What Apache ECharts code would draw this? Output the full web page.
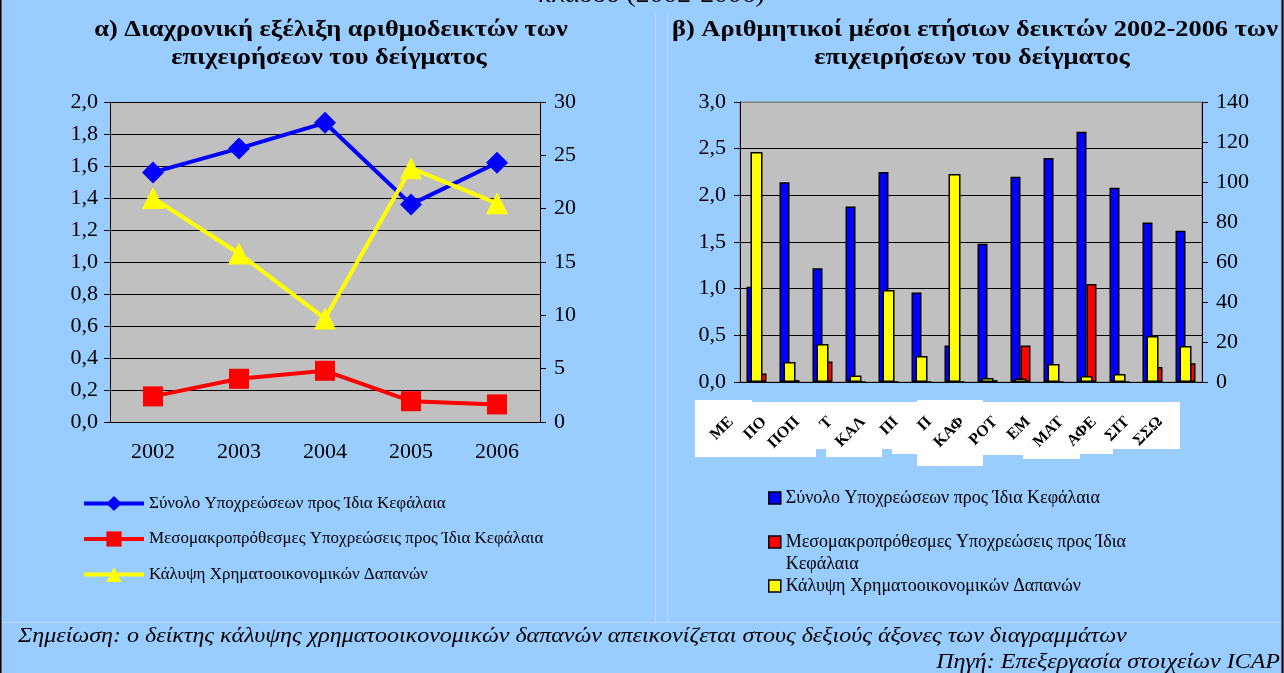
<!DOCTYPE html>
<html>
<head>
<meta charset="utf-8">
<script src="https://cdn.jsdelivr.net/npm/echarts@6/dist/echarts.min.js"></script>
<style>
  html, body { margin: 0; padding: 0; background: #99CCFF; }
  #chart { width: 1284px; height: 673px; }
</style>
</head>
<body>
<div id="chart"></div>
<script>
// α) χρονική εξέλιξη
var years = ['2002', '2003', '2004', '2005', '2006'];
var totalLiab = [1.56, 1.71, 1.87, 1.36, 1.62];
var longLiab = [0.16, 0.27, 0.32, 0.13, 0.11];
var coverage = [21.0, 15.8, 9.7, 23.8, 20.5];

// β) μέσοι όροι ανά κλάδο
var sectors = ['ΜΕ', 'ΠΟ', 'ΠΟΠ', 'Τ', 'ΚΑΛ', 'ΠΙ', 'Π', 'ΚΑΦ', 'ΡΟΤ', 'ΕΜ', 'ΜΑΤ', 'ΑΦΕ', 'ΣΙΤ', 'ΣΣΩ'];
var sectorTotal = [1.02, 2.14, 1.22, 1.88, 2.25, 0.96, 0.39, 1.48, 2.20, 2.40, 2.68, 2.08, 1.71, 1.62];
var sectorLong = [0.09, 0.02, 0.22, 0, 0, 0, 0, 0.02, 0.39, 0, 1.05, 0, 0.16, 0.20];
var sectorCoverage = [115, 10, 19, 3.2, 46, 13, 104, 2, 1.8, 9, 3, 4, 23, 18];

var names = [
  'Σύνολο Υποχρεώσεων προς Ίδια Κεφάλαια',
  'Μεσομακροπρόθεσμες Υποχρεώσεις προς Ίδια Κεφάλαια',
  'Κάλυψη Χρηματοοικονομικών Δαπανών'
];

var serif = 'Liberation Serif';
var comma = function (v) { return v.toFixed(1).replace('.', ','); };
var axisText = { color: '#000', fontFamily: serif, fontSize: 22 };
var blackLine = { lineStyle: { color: '#000', width: 1 } };

// κείμενο τεντωμένο οριζόντια, όπως στο πρωτότυπο
function stretched(txt, x, y, font, align, sx) {
  return {
    type: 'text', x: x, y: y, scaleX: sx, originX: 0, originY: 0,
    style: { text: txt, font: font, fill: '#000', align: align, verticalAlign: 'middle' }
  };
}

var myChart = echarts.init(document.getElementById('chart'));

var legendRight = {
  left: 763, itemWidth: 12, itemHeight: 12, selectedMode: false, icon: 'rect',
  itemStyle: { borderColor: '#000', borderWidth: 1.5 },
  textStyle: { fontFamily: serif, fontSize: 18, color: '#000', lineHeight: 22 }
};

var option = {
  backgroundColor: '#99CCFF',
  animation: false,
  legend: [
    {
      data: names, orient: 'vertical', left: 77, top: 489,
      itemWidth: 60, itemHeight: 19, itemGap: 16.5,
      selectedMode: false,
      lineStyle: { width: 4 },
      textStyle: { fontFamily: serif, fontSize: 17, color: '#000', lineHeight: 19 }
    },
    Object.assign({ data: [names[0]], top: 482 }, legendRight),
    Object.assign({
      data: [names[1]], top: 504,
      formatter: function () { return ' \nΜεσομακροπρόθεσμες Υποχρεώσεις προς Ίδια\nΚεφάλαια'; }
    }, legendRight),
    Object.assign({ data: [names[2]], top: 570 }, legendRight)
  ],
  grid: [
    { left: 110, right: 744, top: 102, bottom: 251, show: true, backgroundColor: '#C0C0C0', borderWidth: 0 },
    { left: 740, right: 82, top: 102, bottom: 291, show: true, backgroundColor: '#C0C0C0', borderColor: '#808080', borderWidth: 1 }
  ],
  xAxis: [
    {
      gridIndex: 0, type: 'category', data: years,
      axisLine: blackLine, axisTick: { length: 6, lineStyle: { color: '#000' } },
      axisLabel: Object.assign({ margin: 19 }, axisText)
    },
    {
      gridIndex: 1, type: 'category', data: sectors,
      axisLine: blackLine, axisTick: { length: 6, lineStyle: { color: '#000' } },
      axisLabel: { rotate: 45, margin: 12, padding: [0, 36, 0, 0], color: '#000', fontFamily: serif, fontSize: 16, fontWeight: 'bold' },
      z: 10
    },
    {
      gridIndex: 1, type: 'category', data: sectors, show: false
    }
  ],
  yAxis: [
    {
      gridIndex: 0, type: 'value', min: 0, max: 2, interval: 0.2,
      axisLine: { show: true, lineStyle: { color: '#000' } },
      axisTick: { show: true, length: 6, lineStyle: { color: '#000' } },
      axisLabel: Object.assign({ margin: 12, formatter: comma }, axisText),
      splitLine: { show: true, lineStyle: { color: '#000', width: 1 } }
    },
    {
      gridIndex: 0, type: 'value', min: 0, max: 30, interval: 5, position: 'right',
      axisLine: { show: true, lineStyle: { color: '#000' } },
      axisTick: { show: true, length: 6, lineStyle: { color: '#000' } },
      axisLabel: Object.assign({ margin: 14 }, axisText),
      splitLine: { show: false }
    },
    {
      gridIndex: 1, type: 'value', min: 0, max: 3, interval: 0.5,
      axisLine: { show: true, lineStyle: { color: '#000' } },
      axisTick: { show: true, length: 6, lineStyle: { color: '#000' } },
      axisLabel: Object.assign({ margin: 14, formatter: comma }, axisText),
      splitLine: { show: true, lineStyle: { color: ['#000', '#000', '#000', '#000', '#000', '#000', '#808080'], width: 1 } }
    },
    {
      gridIndex: 1, type: 'value', min: 0, max: 140, interval: 20, position: 'right',
      axisLine: { show: true, lineStyle: { color: '#000' } },
      axisTick: { show: true, length: 6, lineStyle: { color: '#000' } },
      axisLabel: Object.assign({ margin: 14 }, axisText),
      splitLine: { show: false }
    }
  ],
  series: [
    {
      name: names[0], type: 'line', xAxisIndex: 0, yAxisIndex: 0, data: totalLiab,
      symbol: 'diamond', symbolSize: 22,
      lineStyle: { color: '#0000FF', width: 4 }, itemStyle: { color: '#0000FF' }
    },
    {
      name: names[1], type: 'line', xAxisIndex: 0, yAxisIndex: 0, data: longLiab,
      symbol: 'rect', symbolSize: 20,
      lineStyle: { color: '#FF0000', width: 4 }, itemStyle: { color: '#FF0000' }
    },
    {
      name: names[2], type: 'line', xAxisIndex: 0, yAxisIndex: 1, data: coverage,
      symbol: 'triangle', symbolSize: 22,
      lineStyle: { color: '#FFFF00', width: 4 }, itemStyle: { color: '#FFFF00' }
    },
    {
      name: names[0], type: 'bar', xAxisIndex: 1, yAxisIndex: 2, data: sectorTotal,
      barWidth: 10, barGap: '0%',
      itemStyle: { color: '#0000FF', borderColor: '#000', borderWidth: 1.5 }
    },
    {
      name: names[1], type: 'bar', xAxisIndex: 1, yAxisIndex: 2, data: sectorLong,
      barWidth: 10, barGap: '0%',
      itemStyle: { color: '#FF0000', borderColor: '#000', borderWidth: 1.5 }
    },
    {
      name: names[2], type: 'bar', xAxisIndex: 2, yAxisIndex: 3, data: sectorCoverage,
      barWidth: 12,
      itemStyle: { color: '#FFFF00', borderColor: '#000', borderWidth: 1.5 }
    }
  ],
  graphic: [
    // άσπρα κομμάτια κάτω από τις ετικέτες κλάδων
    { type: 'rect', z: 1, shape: { x: 695, y: 400, width: 57, height: 57 }, style: { fill: '#fff' } },
    { type: 'rect', z: 1, shape: { x: 752, y: 402, width: 165, height: 47 }, style: { fill: '#fff' } },
    { type: 'rect', z: 1, shape: { x: 752, y: 449, width: 64, height: 8 }, style: { fill: '#fff' } },
    { type: 'rect', z: 1, shape: { x: 826, y: 449, width: 56, height: 8 }, style: { fill: '#fff' } },
    { type: 'rect', z: 1, shape: { x: 892, y: 449, width: 25, height: 5 }, style: { fill: '#fff' } },
    { type: 'rect', z: 1, shape: { x: 917, y: 400, width: 66, height: 66 }, style: { fill: '#fff' } },
    { type: 'rect', z: 1, shape: { x: 983, y: 402, width: 40, height: 53 }, style: { fill: '#fff' } },
    { type: 'rect', z: 1, shape: { x: 1023, y: 402, width: 57, height: 57 }, style: { fill: '#fff' } },
    { type: 'rect', z: 1, shape: { x: 1080, y: 402, width: 33, height: 52 }, style: { fill: '#fff' } },
    { type: 'rect', z: 1, shape: { x: 1113, y: 402, width: 67, height: 47 }, style: { fill: '#fff' } },
    // πλαίσιο
    { type: 'line', shape: { x1: 0.5, y1: 0, x2: 0.5, y2: 673 }, style: { stroke: '#000', lineWidth: 2 } },
    { type: 'line', shape: { x1: 1282.5, y1: 0, x2: 1282.5, y2: 673 }, style: { stroke: '#000', lineWidth: 2 } },
    { type: 'line', shape: { x1: 655.5, y1: 12, x2: 655.5, y2: 622 }, style: { stroke: '#b9dcff', lineWidth: 1 } },
    { type: 'line', shape: { x1: 667.5, y1: 12, x2: 667.5, y2: 622 }, style: { stroke: '#b9dcff', lineWidth: 1 } },
    { type: 'line', shape: { x1: 2, y1: 622.5, x2: 1281, y2: 622.5 }, style: { stroke: '#b9dcff', lineWidth: 1 } },
    // τίτλοι
    stretched('κλάδου (2002-2006)', 651, -4, '24px "Liberation Serif"', 'center', 1.15),
    stretched('α) Διαχρονική εξέλιξη αριθμοδεικτών των', 331, 30, 'bold 24px "Liberation Serif"', 'center', 1.1),
    stretched('επιχειρήσεων του δείγματος', 329, 58, 'bold 24px "Liberation Serif"', 'center', 1.1),
    stretched('β) Αριθμητικοί μέσοι ετήσιων δεικτών 2002-2006 των', 975, 30, 'bold 24px "Liberation Serif"', 'center', 1.1),
    stretched('επιχειρήσεων του δείγματος', 972, 58, 'bold 24px "Liberation Serif"', 'center', 1.1),
    // σημειώσεις
    stretched('Σημείωση: ο δείκτης κάλυψης χρηματοοικονομικών δαπανών απεικονίζεται στους δεξιούς άξονες των διαγραμμάτων', 18, 637, 'italic 20px "Liberation Serif"', 'left', 1.2),
    stretched('Πηγή: Επεξεργασία στοιχείων ICAP', 1280, 663, 'italic 20px "Liberation Serif"', 'right', 1.2)
  ]
};

myChart.setOption(option);
window.addEventListener('resize', function () {
  myChart.resize();
});
</script>
</body>
</html>
